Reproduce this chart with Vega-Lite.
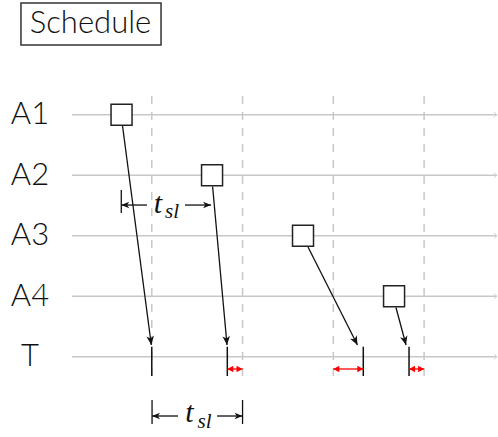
{
  "$schema": "https://vega.github.io/schema/vega-lite/v6.json",
  "width": 437,
  "height": 437,
  "autosize": {"type": "none"},
  "padding": {"left": 61, "top": 0, "right": 0, "bottom": 0},
  "background": "white",
  "config": {"view": {"stroke": null}},
  "datasets": {
    "lanes": [
      {"name": "A1", "r": 0, "from": 0.121, "to": 4.80},
      {"name": "A2", "r": 1, "from": 0.121, "to": 4.80},
      {"name": "A3", "r": 2, "from": 0.121, "to": 4.80},
      {"name": "A4", "r": 3, "from": 0.121, "to": 4.80},
      {"name": "T", "r": 4, "from": 0.121, "to": 4.80}
    ],
    "slots": [
      {"t": 1, "top": -0.31, "bottom": 4.335},
      {"t": 2, "top": -0.31, "bottom": 4.335},
      {"t": 3, "top": -0.31, "bottom": 4.335},
      {"t": 4, "top": -0.31, "bottom": 4.335}
    ],
    "tasks": [
      {"task": "A1", "sx": 0.667, "sy": 0, "ax": 0.678, "ay": 0.187, "ex": 0.995, "ey": 3.807, "tick": 1.0},
      {"task": "A2", "sx": 1.664, "sy": 1, "ax": 1.670, "ay": 1.187, "ex": 1.829, "ey": 3.807, "tick": 1.832},
      {"task": "A3", "sx": 2.666, "sy": 2, "ax": 2.721, "ay": 2.187, "ex": 3.266, "ey": 3.807, "tick": 3.33},
      {"task": "A4", "sx": 3.669, "sy": 3, "ax": 3.690, "ay": 3.187, "ex": 3.801, "ey": 3.807, "tick": 3.834}
    ],
    "gaps": [
      {"from": 1.832, "to": 2.0, "y": 4.203},
      {"from": 3.0, "to": 3.33, "y": 4.203},
      {"from": 3.834, "to": 4.0, "y": 4.203}
    ],
    "dimsegs": [
      {"side": "left", "x": 0.664, "x2": 0.947, "y": 1.493},
      {"side": "right", "x": 1.366, "x2": 1.653, "y": 1.493},
      {"side": "left", "x": 1.003, "x2": 1.289, "y": 4.98},
      {"side": "right", "x": 1.719, "x2": 2.0, "y": 4.98}
    ],
    "dimticks": [
      {"x": 0.664, "y": 1.245, "y2": 1.625},
      {"x": 1.003, "y": 4.716, "y2": 5.112},
      {"x": 2.0, "y": 4.716, "y2": 5.112}
    ],
    "labels": [
      {"txt": "t", "kind": "main", "x": 1.069, "y": 1.625},
      {"txt": "sl", "kind": "sub", "x": 1.223, "y": 1.707},
      {"txt": "t", "kind": "main", "x": 1.416, "y": 5.079},
      {"txt": "sl", "kind": "sub", "x": 1.581, "y": 5.179}
    ],
    "title": [
      {"title": "Schedule", "x1": -0.441, "x2": 1.102, "y1": -1.846, "y2": -1.152, "cx": 0.325, "cy": -1.499}
    ]
  },
  "layer": [
    {
      "data": {"name": "lanes"},
      "mark": {"type": "rule", "color": "#c8c8c8", "strokeWidth": 1.5},
      "encoding": {
        "x": {"field": "from", "type": "quantitative", "scale": {"domain": [0, 4.814], "nice": false, "zero": false}, "axis": null},
        "x2": {"field": "to"},
        "y": {"field": "r", "type": "quantitative", "scale": {"domain": [-1.896, 5.327], "nice": false, "zero": false, "reverse": true},
          "axis": {"values": [0, 1, 2, 3, 4], "labelExpr": "['A1','A2','A3','A4','T'][datum.value]", "title": null, "domain": false, "ticks": false, "grid": false,
            "labelFont": "Lato", "labelFontWeight": 300, "labelFontSize": 31, "labelColor": "#111", "labelAlign": "center", "labelBaseline": "middle", "labelPadding": 31.5}}
      }
    },
    {
      "data": {"name": "lanes"},
      "mark": {"type": "point", "shape": "M-1,-1L0,0L-1,1", "filled": false, "stroke": "#c0c0c0", "strokeWidth": 1, "size": 30},
      "encoding": {
        "x": {"field": "to", "type": "quantitative"},
        "y": {"field": "r", "type": "quantitative"}
      }
    },
    {
      "data": {"name": "slots"},
      "mark": {"type": "rule", "color": "#c8c8c8", "strokeWidth": 1.5, "strokeDash": [8, 8]},
      "encoding": {
        "x": {"field": "t", "type": "quantitative"},
        "y": {"field": "top", "type": "quantitative"},
        "y2": {"field": "bottom"}
      }
    },
    {
      "data": {"name": "tasks"},
      "mark": {"type": "rule", "color": "#111", "strokeWidth": 1.3},
      "encoding": {
        "x": {"field": "ax", "type": "quantitative"},
        "y": {"field": "ay", "type": "quantitative"},
        "x2": {"field": "ex"},
        "y2": {"field": "ey"}
      }
    },
    {
      "data": {"name": "tasks"},
      "transform": [{"calculate": "atan2(-(datum.ex - datum.ax) * 90.77, (datum.ey - datum.ay) * 60.5) * 180 / PI", "as": "ang"}],
      "mark": {"type": "point", "shape": "M0,0L-0.42,-1L0,-0.72L0.42,-1Z", "filled": true, "color": "#111", "strokeWidth": 0, "size": 324, "opacity": 1},
      "encoding": {
        "x": {"field": "ex", "type": "quantitative"},
        "y": {"field": "ey", "type": "quantitative"},
        "angle": {"field": "ang", "type": "quantitative", "scale": null}
      }
    },
    {
      "data": {"name": "tasks"},
      "mark": {"type": "point", "shape": "square", "filled": true, "fill": "white", "stroke": "#222", "strokeWidth": 1.5, "size": 441, "opacity": 1},
      "encoding": {
        "x": {"field": "sx", "type": "quantitative"},
        "y": {"field": "sy", "type": "quantitative"}
      }
    },
    {
      "data": {"name": "tasks"},
      "mark": {"type": "rule", "color": "#111", "strokeWidth": 1.5},
      "encoding": {
        "x": {"field": "tick", "type": "quantitative"},
        "y": {"datum": 3.835, "type": "quantitative"},
        "y2": {"datum": 4.319}
      }
    },
    {
      "data": {"name": "gaps"},
      "mark": {"type": "rule", "color": "#ff0000", "strokeWidth": 1.3},
      "encoding": {
        "x": {"field": "from", "type": "quantitative"},
        "x2": {"field": "to"},
        "y": {"field": "y", "type": "quantitative"}
      }
    },
    {
      "data": {"name": "gaps"},
      "mark": {"type": "point", "shape": "M0,0L1,-0.55L1,0.55Z", "filled": true, "color": "#ff0000", "strokeWidth": 0, "size": 144, "opacity": 1},
      "encoding": {
        "x": {"field": "from", "type": "quantitative"},
        "y": {"field": "y", "type": "quantitative"}
      }
    },
    {
      "data": {"name": "gaps"},
      "mark": {"type": "point", "shape": "M0,0L-1,-0.55L-1,0.55Z", "filled": true, "color": "#ff0000", "strokeWidth": 0, "size": 144, "opacity": 1},
      "encoding": {
        "x": {"field": "to", "type": "quantitative"},
        "y": {"field": "y", "type": "quantitative"}
      }
    },
    {
      "data": {"name": "dimsegs"},
      "mark": {"type": "rule", "color": "#111", "strokeWidth": 1.3},
      "encoding": {
        "x": {"field": "x", "type": "quantitative"},
        "x2": {"field": "x2"},
        "y": {"field": "y", "type": "quantitative"}
      }
    },
    {
      "data": {"name": "dimsegs"},
      "transform": [{"filter": "datum.side === 'left'"}],
      "mark": {"type": "point", "shape": "M0,0L1,-0.4L0.72,0L1,0.4Z", "filled": true, "color": "#111", "strokeWidth": 0, "size": 256, "opacity": 1},
      "encoding": {
        "x": {"field": "x", "type": "quantitative"},
        "y": {"field": "y", "type": "quantitative"}
      }
    },
    {
      "data": {"name": "dimsegs"},
      "transform": [{"filter": "datum.side === 'right'"}],
      "mark": {"type": "point", "shape": "M0,0L-1,-0.4L-0.72,0L-1,0.4Z", "filled": true, "color": "#111", "strokeWidth": 0, "size": 256, "opacity": 1},
      "encoding": {
        "x": {"field": "x2", "type": "quantitative"},
        "y": {"field": "y", "type": "quantitative"}
      }
    },
    {
      "data": {"name": "dimticks"},
      "mark": {"type": "rule", "color": "#111", "strokeWidth": 1.3},
      "encoding": {
        "x": {"field": "x", "type": "quantitative"},
        "y": {"field": "y", "type": "quantitative"},
        "y2": {"field": "y2"}
      }
    },
    {
      "data": {"name": "labels"},
      "transform": [{"filter": "datum.kind === 'main'"}],
      "mark": {"type": "text", "font": "Liberation Serif", "fontStyle": "italic", "fontSize": 30, "color": "#111", "align": "center", "baseline": "alphabetic"},
      "encoding": {
        "x": {"field": "x", "type": "quantitative"},
        "y": {"field": "y", "type": "quantitative"},
        "text": {"field": "txt"}
      }
    },
    {
      "data": {"name": "labels"},
      "transform": [{"filter": "datum.kind === 'sub'"}],
      "mark": {"type": "text", "font": "Liberation Serif", "fontStyle": "italic", "fontSize": 21, "color": "#111", "align": "center", "baseline": "alphabetic"},
      "encoding": {
        "x": {"field": "x", "type": "quantitative"},
        "y": {"field": "y", "type": "quantitative"},
        "text": {"field": "txt"}
      }
    },
    {
      "data": {"name": "title"},
      "mark": {"type": "rect", "fill": null, "fillOpacity": 0, "stroke": "#333", "strokeWidth": 1.5},
      "encoding": {
        "x": {"field": "x1", "type": "quantitative"},
        "x2": {"field": "x2"},
        "y": {"field": "y1", "type": "quantitative"},
        "y2": {"field": "y2"}
      }
    },
    {
      "data": {"name": "title"},
      "mark": {"type": "text", "font": "Lato", "fontWeight": 300, "fontSize": 31, "color": "#111", "align": "center", "baseline": "middle"},
      "encoding": {
        "x": {"field": "cx", "type": "quantitative"},
        "y": {"field": "cy", "type": "quantitative"},
        "text": {"field": "title"}
      }
    }
  ]
}
